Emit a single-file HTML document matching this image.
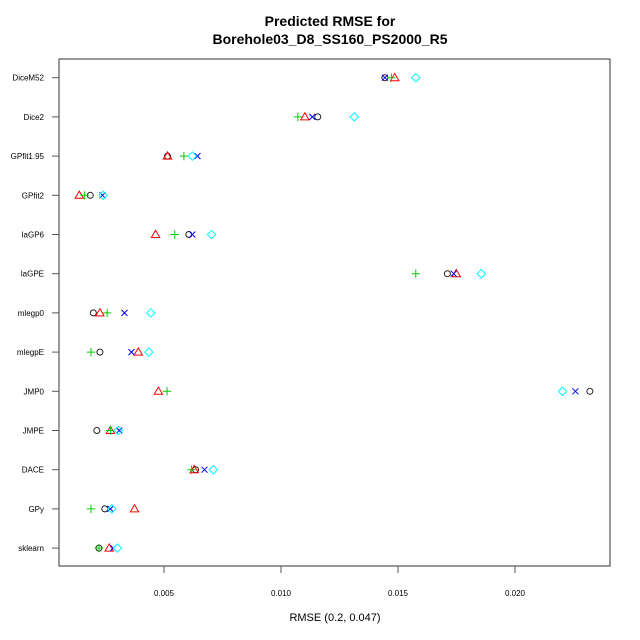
<!DOCTYPE html>
<html><head><meta charset="utf-8"><style>
body{margin:0;background:#fff;}
svg{display:block;font-family:"Liberation Sans",sans-serif;}
</style></head><body>
<svg id="chart" width="640" height="640">
<text x="330" y="26" text-anchor="middle" font-size="14" font-weight="bold">Predicted RMSE for</text>
<text x="330" y="44" text-anchor="middle" font-size="14" font-weight="bold">Borehole03_D8_SS160_PS2000_R5</text>
<rect x="59" y="59" width="551" height="507" fill="none" stroke="#333" stroke-width="1"/>
<text x="335" y="621" text-anchor="middle" font-size="11">RMSE (0.2, 0.047)</text>
<g id="axes"></g>
<g id="marks"></g>
</svg>
<script>
const categories=["DiceM52","Dice2","GPfit1.95","GPfit2","laGP6","laGPE","mlegp0","mlegpE","JMP0","JMPE","DACE","GPy","sklearn"];
const seriesCircle=[0.01444,0.01157,0.00515,0.00185,0.00606,0.01711,0.00198,0.00226,0.0232,0.00213,0.00635,0.00247,0.00222];
const seriesTriangle=[0.01486,0.01102,0.00515,0.00138,0.00464,0.01749,0.00226,0.0039,0.00476,0.00271,0.00629,0.00374,0.00266];
const seriesPlus=[0.01472,0.01072,0.00585,0.00161,0.00546,0.01576,0.00257,0.00188,0.00513,0.00271,0.00617,0.00188,0.00222];
const seriesCross=[0.01444,0.01134,0.00643,0.00237,0.00621,0.01738,0.00331,0.00361,0.02258,0.00309,0.00673,0.00271,0.00283];
const seriesDiamond=[0.01576,0.01313,0.00621,0.0024,0.00703,0.01856,0.00444,0.00435,0.02203,0.00305,0.00711,0.00277,0.00301];
const xTicks=[0.005,0.010,0.015,0.020];
const xTickLabels=["0.005","0.010","0.015","0.020"];
const NS="http://www.w3.org/2000/svg";
function xs(v){return 164+(v-0.005)*23400;}
function ys(i){return 77.7+i*39.2;}
function mk(tag,attrs,parent){const e=document.createElementNS(NS,tag);for(const k in attrs)e.setAttribute(k,attrs[k]);parent.appendChild(e);return e;}
const axes=document.getElementById('axes'),marks=document.getElementById('marks');
xTicks.forEach((t,i)=>{
  const l=mk('line',{x1:xs(t),x2:xs(t),y1:566,y2:573,stroke:'#555'},axes);
  
  
  const tx=mk('text',{x:xs(t),y:596,'text-anchor':'middle','font-size':'8'},axes);
  tx.textContent=xTickLabels[i];
  
  
});
categories.forEach((c,i)=>{
  const l=mk('line',{x1:52,x2:59,y1:ys(i),y2:ys(i),stroke:'#555'},axes);
  
  
  const tx=mk('text',{x:44,y:ys(i)+3,'text-anchor':'end','font-size':'8'},axes);
  tx.textContent=c;
  
  
});
const r=3.2;
categories.forEach((c,i)=>{
  const y=ys(i);
  let x=xs(seriesCircle[i]);
  let e=mk('circle',{cx:x,cy:y,r:3,fill:'none',stroke:'#222'},marks);
  
  
  x=xs(seriesTriangle[i]);
  e=mk('polygon',{points:`${x},${y-4.2} ${x-4.2},${y+3} ${x+4.2},${y+3}`,fill:'none',stroke:'#f00'},marks);
  
  
  x=xs(seriesPlus[i]);
  e=mk('path',{d:`M${x-r-1},${y}H${x+r+1}M${x},${y-r-1}V${y+r+1}`,stroke:'#0c0',fill:'none'},marks);
  
  
  x=xs(seriesCross[i]);
  e=mk('path',{d:`M${x-3},${y-3}L${x+3},${y+3}M${x-3},${y+3}L${x+3},${y-3}`,stroke:'#00f',fill:'none'},marks);
  
  
  x=xs(seriesDiamond[i]);
  e=mk('polygon',{points:`${x},${y-4.2} ${x+4.2},${y} ${x},${y+4.2} ${x-4.2},${y}`,fill:'none',stroke:'#0ff'},marks);
  
  
});
</script>
</body></html>
